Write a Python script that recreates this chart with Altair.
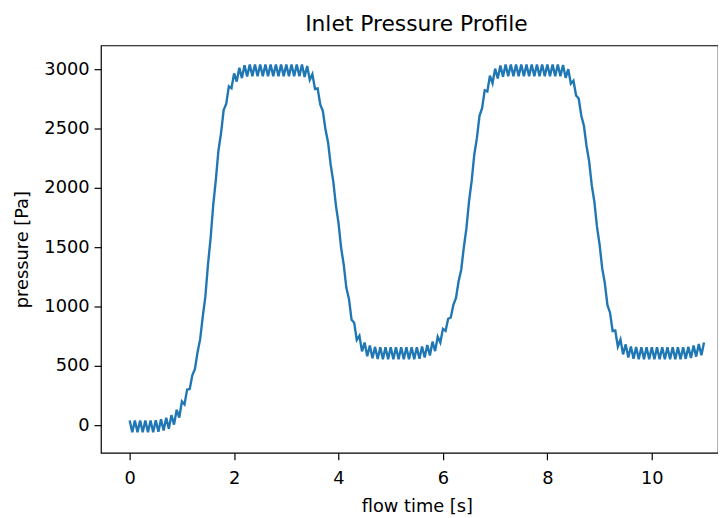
import altair as alt
import numpy as np
import pandas as pd

# sample grid: 0 to 11 s, every 0.05 s
time_s = np.round(np.arange(0, 221) * 0.05, 2)

pressure_pa = [
    40, -60, 40, -60, 40, -60, 40, -60, 40, -60,
    42, -55, 50, -45, 62, -30, 85, 5, 130, 65,
    200, 175, 300, 305, 420, 475, 615, 725, 915, 1085,
    1355, 1575, 1855, 2065, 2315, 2460, 2655, 2710, 2855, 2840,
    2965, 2895, 3012, 2925, 3033, 2938, 3040, 2940, 3040, 2940,
    3040, 2940, 3040, 2940, 3040, 2940, 3040, 2940, 3040, 2940,
    3040, 2940, 3040, 2940, 3040, 2940, 3040, 2935, 3027, 2910,
    2958, 2833, 2838, 2703, 2648, 2493, 2383, 2193, 2053, 1853,
    1703, 1493, 1353, 1158, 1063, 888, 863, 718, 753, 622,
    697, 581, 671, 564, 660, 558, 656, 556, 656, 556,
    656, 556, 656, 556, 656, 556, 656, 556, 656, 556,
    656, 560, 664, 570, 676, 588, 704, 624, 746, 697,
    812, 795, 897, 908, 1015, 1072, 1213, 1310, 1499, 1660,
    1889, 2058, 2279, 2419, 2607, 2671, 2823, 2812, 2945, 2881,
    3005, 2921, 3031, 2937, 3040, 2940, 3040, 2940, 3040, 2940,
    3040, 2940, 3040, 2940, 3040, 2940, 3040, 2940, 3040, 2940,
    3040, 2940, 3040, 2940, 3040, 2940, 3035, 2927, 3000, 2878,
    2903, 2778, 2753, 2608, 2523, 2353, 2223, 2023, 1883, 1673,
    1523, 1323, 1198, 1013, 948, 793, 798, 663, 722, 597,
    681, 571, 664, 560, 658, 556, 656, 556, 656, 556,
    656, 556, 656, 556, 656, 556, 656, 556, 656, 556,
    656, 556, 656, 559, 662, 566, 672, 578, 684, 590,
    696,
]

x_ticks = [0, 2, 4, 6, 8, 10]
y_ticks = [0, 500, 1000, 1500, 2000, 2500, 3000]

df = pd.DataFrame({"t": time_s, "p": pressure_pa})

FONT = "DejaVu Sans"

chart = (
    alt.Chart(df)
    .mark_line(color="#1f77b4", strokeWidth=2.4, clip=True)
    .encode(
        x=alt.X(
            "t:Q",
            scale=alt.Scale(domain=[-0.55, 11.268], nice=False, zero=False),
            axis=alt.Axis(
                values=x_ticks,
                format="d",
                title="flow time [s]",
                titleX=319.5,
                titleAlign="center",
                titleAnchor="start",
            ),
        ),
        y=alt.Y(
            "p:Q",
            scale=alt.Scale(domain=[-233, 3200], nice=False, zero=False),
            axis=alt.Axis(values=y_ticks, format="d", title="pressure [Pa]"),
        ),
    )
    .properties(
        width=624,
        height=412,
        padding={"left": 94, "top": 35, "right": 0, "bottom": 63},
        autosize=alt.AutoSizeParams(type="none"),
        title=alt.TitleParams(
            "Inlet Pressure Profile",
            font=FONT,
            fontSize=22,
            fontWeight="normal",
            color="#000000",
            anchor="middle",
            dx=7,
            offset=10,
        ),
    )
    .configure_view(stroke="#000000", strokeWidth=1.2)
    .configure_axis(
        domain=False,
        grid=False,
        ticks=True,
        tickColor="#000000",
        tickSize=7,
        tickWidth=1.2,
        labelFont=FONT,
        labelFontSize=18,
        labelColor="#000000",
        labelPadding=5,
        titleFont=FONT,
        titleFontSize=18,
        titleFontWeight="normal",
        titleColor="#000000",
    )
    .configure_axisY(titlePadding=12)
    .configure_axisX(labelPadding=10, titlePadding=10)
)

chart.save("out.html", embed_options={"renderer": "svg", "actions": False})
